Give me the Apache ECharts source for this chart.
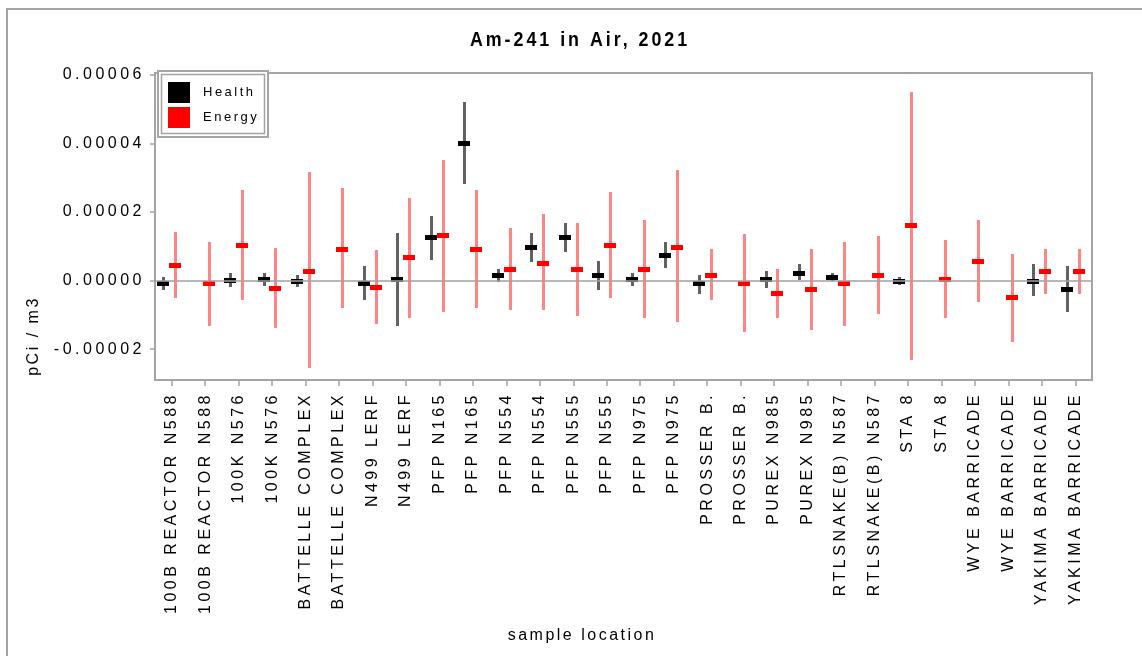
<!DOCTYPE html>
<html>
<head>
<meta charset="utf-8">
<style>
html,body{margin:0;padding:0;background:#fff;}
#main{width:1142px;height:656px;}
</style>
<script>
// GDI-like wide letter spacing of the reference rendering
(function(){
  var P = window.CanvasRenderingContext2D && CanvasRenderingContext2D.prototype;
  if (!P) return;
  function spacing(font) {
    font = String(font || '');
    if (/Helvetica/.test(font)) return '2.5px';
    if (/\b13px/.test(font)) return '2.5px';
    return '3.5px';
  }
  ['fillText','strokeText','measureText'].forEach(function(k){
    var o = P[k];
    P[k] = function(){ try { this.letterSpacing = spacing(this.font); } catch(e){} return o.apply(this, arguments); };
  });
})();
</script>
<script src="https://cdn.jsdelivr.net/npm/echarts@6/dist/echarts.min.js"></script>
</head>
<body>
<div id="main"></div>
<script>
var categories = [
  '100B REACTOR N588','100B REACTOR N588','100K N576','100K N576',
  'BATTELLE COMPLEX','BATTELLE COMPLEX','N499 LERF','N499 LERF',
  'PFP N165','PFP N165','PFP N554','PFP N554','PFP N555','PFP N555',
  'PFP N975','PFP N975','PROSSER B.','PROSSER B.','PUREX N985','PUREX N985',
  'RTLSNAKE(B) N587','RTLSNAKE(B) N587','STA 8','STA 8',
  'WYE BARRICADE','WYE BARRICADE','YAKIMA BARRICADE','YAKIMA BARRICADE'
];
// Health (black): mean, low, high; null where absent
var healthMean = [-0.6e-6, null, 0.2e-6, 0.5e-6, 0.0, null, -0.8e-6, 0.5e-6, 12.8e-6, 40.2e-6, 1.7e-6, 9.8e-6, 12.8e-6, 1.7e-6,
                  0.5e-6, 7.5e-6, -0.7e-6, null, 0.5e-6, 2.2e-6, 1.1e-6, null, -0.1e-6, null, null, null, -0.1e-6, -2.4e-6];
var healthLow  = [-2.7e-6, null, -2.0e-6, -1.5e-6, -2.0e-6, null, -5.6e-6, -13.2e-6, 6.0e-6, 28.2e-6, -0.3e-6, 5.5e-6, 8.4e-6, -2.7e-6,
                  -1.5e-6, 3.7e-6, -3.9e-6, null, -2.2e-6, 0.2e-6, -0.1e-6, null, -1.3e-6, null, null, null, -4.5e-6, -9.1e-6];
var healthHigh = [1.0e-6, null, 2.2e-6, 2.3e-6, 1.7e-6, null, 4.1e-6, 14.0e-6, 18.7e-6, 52.0e-6, 3.4e-6, 14.0e-6, 16.9e-6, 5.8e-6,
                  2.3e-6, 11.1e-6, 1.7e-6, null, 2.9e-6, 4.7e-6, 2.3e-6, null, 1.0e-6, null, null, null, 4.7e-6, 4.1e-6];
// Energy (red): mean, low, high
var energyMean = [4.6e-6, -0.8e-6, 10.3e-6, -2.3e-6, 2.7e-6, 9.3e-6, -1.9e-6, 6.8e-6, 13.3e-6, 9.3e-6, 3.4e-6, 5.2e-6, 3.4e-6, 10.4e-6,
                  3.4e-6, 9.8e-6, 1.7e-6, -0.7e-6, -3.7e-6, -2.5e-6, -0.7e-6, 1.7e-6, 16.3e-6, 0.5e-6, 5.8e-6, -4.8e-6, 2.8e-6, 2.8e-6];
var energyLow  = [-5.0e-6, -13.2e-6, -5.6e-6, -13.9e-6, -25.6e-6, -8.1e-6, -12.7e-6, -10.9e-6, -9.1e-6, -8.1e-6, -8.6e-6, -8.6e-6, -10.3e-6, -5.1e-6,
                  -10.9e-6, -12.1e-6, -5.6e-6, -15.0e-6, -10.9e-6, -14.4e-6, -13.2e-6, -9.7e-6, -23.2e-6, -10.9e-6, -6.2e-6, -17.9e-6, -3.9e-6, -3.9e-6];
var energyHigh = [14.1e-6, 11.2e-6, 26.5e-6, 9.5e-6, 31.7e-6, 27.0e-6, 8.8e-6, 24.1e-6, 35.2e-6, 26.3e-6, 15.2e-6, 19.3e-6, 16.9e-6, 25.7e-6,
                  17.5e-6, 32.2e-6, 9.3e-6, 13.5e-6, 3.5e-6, 9.3e-6, 11.1e-6, 12.9e-6, 54.9e-6, 11.7e-6, 17.5e-6, 7.6e-6, 9.3e-6, 9.3e-6];
var yTickValues = [-0.00002, 0, 0.00002, 0.00004, 0.00006];
var seriesNames = ['Health', 'Energy'];

function toRows(mean, low, high) {
  var rows = [];
  for (var i = 0; i < mean.length; i++) {
    if (mean[i] === null) continue;
    rows.push([i, mean[i], low[i], high[i]]);
  }
  return rows;
}

function makeRender(offsetFrac, barColor, errColor) {
  return function (params, api) {
    var band = api.size([1, 0])[0];
    var c = api.coord([api.value(0), api.value(1)]);
    var lo = api.coord([api.value(0), api.value(2)]);
    var hi = api.coord([api.value(0), api.value(3)]);
    var x = Math.round(c[0] + offsetFrac * band);
    var cy = Math.round(c[1]);
    return {
      type: 'group',
      children: [
        { type: 'rect', shape: { x: x - 1, y: Math.round(hi[1]), width: 3, height: Math.round(lo[1]) - Math.round(hi[1]) },
          style: { fill: errColor } },
        { type: 'rect', shape: { x: x - 6, y: cy - 2, width: 12, height: 5 },
          style: { fill: barColor } }
      ]
    };
  };
}

var FONT = "'Liberation Sans', Arial, sans-serif";
var NAMEFONT = "16px 'Liberation Sans', Arial, Helvetica, sans-serif";
var chart = echarts.init(document.getElementById('main'), null, { renderer: 'canvas' });
var option = {
  backgroundColor: '#ffffff',
  animation: false,
  textStyle: { fontFamily: FONT },
  grid: { left: 155, right: 50, top: 73, bottom: 276, show: true, borderColor: '#a4a4a4', borderWidth: 2, backgroundColor: 'transparent' },
  legend: {
    data: seriesNames, orient: 'vertical', left: 168, top: 82, padding: 0,
    itemWidth: 22, itemHeight: 21, itemGap: 4, icon: 'rect', selectedMode: false, z: 6,
    textStyle: { fontFamily: FONT, fontSize: 13, color: '#000', padding: [0, 0, 0, 8] }
  },
  xAxis: {
    type: 'category', data: categories, boundaryGap: true,
    axisLine: { show: true, onZero: false, lineStyle: { color: '#a4a4a4', width: 2 } },
    axisTick: { show: true, alignWithLabel: true, length: 6, lineStyle: { color: '#a4a4a4', width: 1.5 } },
    axisLabel: { interval: 0, rotate: 90, margin: 12, color: '#000', fontSize: 16, fontFamily: FONT },
    splitLine: { show: false }
  },
  yAxis: {
    type: 'value', min: -0.000029, max: 0.0000605,
    axisLine: { show: true, onZero: false, lineStyle: { color: '#a4a4a4', width: 2 } },
    axisTick: { show: true, length: 5, customValues: yTickValues, lineStyle: { color: '#a4a4a4', width: 1.5 } },
    axisLabel: { customValues: yTickValues, margin: 10, color: '#000', fontSize: 16, fontFamily: FONT,
      formatter: function (v) { return v.toFixed(5); } },
    splitLine: { show: false }
  },
  graphic: [
    { type: 'rect', z: 0, silent: true, shape: { x: 7, y: 9, width: 1300, height: 800 },
      style: { fill: 'none', stroke: '#a4a4a4', lineWidth: 2 } },
    { type: 'text', z: 5, silent: true, x: 580, y: 40, scaleX: 0.85,
      style: { text: 'Am-241 in Air, 2021', font: "bold 21px 'Liberation Sans', Arial, sans-serif",
        fill: '#000', textAlign: 'center', textVerticalAlign: 'middle' } },
    { type: 'text', z: 5, silent: true, x: 34, y: 336, rotation: Math.PI / 2,
      style: { text: 'pCi / m3', font: NAMEFONT, fill: '#000',
        textAlign: 'center', textVerticalAlign: 'middle' } },
    { type: 'text', z: 5, silent: true, x: 582, y: 636,
      style: { text: 'sample location', font: NAMEFONT, fill: '#000',
        textAlign: 'center', textVerticalAlign: 'middle' } },
    { type: 'rect', z: 4, silent: true, shape: { x: 158, y: 71, width: 110, height: 66 },
      style: { fill: '#fff', stroke: '#a4a4a4', lineWidth: 2 } },
    { type: 'rect', z: 4, silent: true, shape: { x: 161.5, y: 74.5, width: 103, height: 59 },
      style: { fill: 'none', stroke: '#a4a4a4', lineWidth: 1.5 } }
  ],
  series: [
    { type: 'line', name: 'zero', data: [], z: 1, silent: true, showSymbol: false,
      markLine: { silent: true, symbol: ['none', 'none'], label: { show: false },
        lineStyle: { color: '#a0a0a0', width: 1.5, type: 'solid' }, data: [{ yAxis: 0 }] } },
    { type: 'custom', name: 'Health', z: 2, itemStyle: { color: '#000000' },
      encode: { x: 0, y: [1, 2, 3] },
      data: toRows(healthMean, healthLow, healthHigh),
      renderItem: makeRender(-0.255, '#000000', 'rgba(0,0,0,0.62)') },
    { type: 'custom', name: 'Energy', z: 2, itemStyle: { color: '#ff0000' },
      encode: { x: 0, y: [1, 2, 3] },
      data: toRows(energyMean, energyLow, energyHigh),
      renderItem: makeRender(0.1, '#ff0000', 'rgba(255,0,0,0.48)') }
  ]
};
chart.setOption(option);
</script>
</body>
</html>
